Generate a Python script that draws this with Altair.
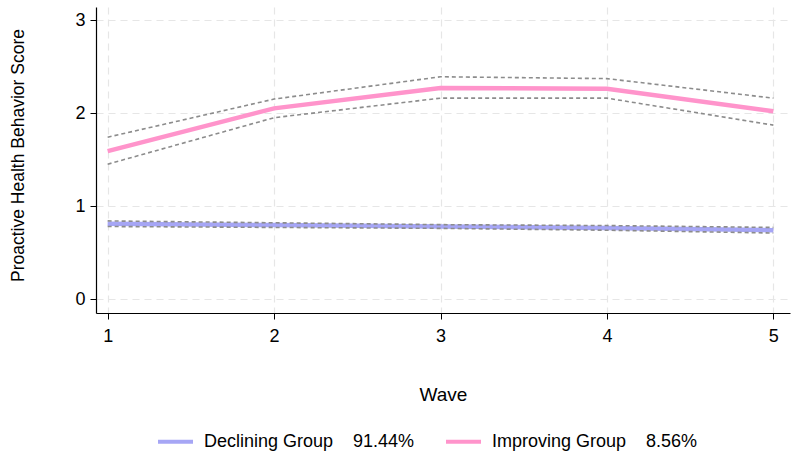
import altair as alt
import pandas as pd

# Trajectory groups: estimated mean scores with 95% confidence bounds per wave
waves = [1, 2, 3, 4, 5]
groups = ["Declining Group", "Improving Group"]
shares = ["91.44%", "8.56%"]
colors = ["#a6a6f5", "#ff94cb"]

declining_mean = [0.81, 0.795, 0.78, 0.765, 0.74]
declining_upper = [0.84, 0.82, 0.80, 0.79, 0.77]
declining_lower = [0.78, 0.77, 0.76, 0.74, 0.71]

improving_mean = [1.59, 2.05, 2.27, 2.26, 2.02]
improving_upper = [1.74, 2.15, 2.39, 2.37, 2.16]
improving_lower = [1.45, 1.95, 2.16, 2.16, 1.87]

NBSP = "\u00a0"
labels = [g + NBSP * 4 + s for g, s in zip(groups, shares)]

series = {
    labels[0]: (declining_mean, declining_upper, declining_lower),
    labels[1]: (improving_mean, improving_upper, improving_lower),
}

mean_rows, ci_rows = [], []
for label, (mean, upper, lower) in series.items():
    for w, m, u, lo in zip(waves, mean, upper, lower):
        mean_rows.append({"wave": w, "score": m, "group": label})
        ci_rows.append({"wave": w, "score": u, "group": label, "bound": "upper"})
        ci_rows.append({"wave": w, "score": lo, "group": label, "bound": "lower"})

mean_df = pd.DataFrame(mean_rows)
ci_df = pd.DataFrame(ci_rows)

x_enc = alt.X(
    "wave:Q",
    scale=alt.Scale(domain=[0.93, 5.1], nice=False, zero=False),
    axis=alt.Axis(values=waves, format="d", title="Wave", titlePadding=40),
)
y_enc = alt.Y(
    "score:Q",
    scale=alt.Scale(domain=[-0.15, 3.14], nice=False, zero=False),
    axis=alt.Axis(values=[0, 1, 2, 3], format="d", title="Proactive Health Behavior Score",
                  titlePadding=47, titleY=148),
)

means = alt.Chart(mean_df).mark_line(strokeWidth=4.5, strokeCap="butt").encode(
    x=x_enc,
    y=y_enc,
    color=alt.Color(
        "group:N",
        scale=alt.Scale(domain=labels, range=colors),
        legend=alt.Legend(
            title=None,
            orient="none",
            direction="horizontal",
            legendX=60,
            legendY=415,
            symbolType="stroke",
            symbolStrokeWidth=4,
            symbolSize=1225,
            labelFontSize=18,
            labelFont="Liberation Sans",
            labelColor="#000000",
            labelLimit=400,
            columnPadding=23,
            labelOffset=9,
        ),
    ),
)

bounds = alt.Chart(ci_df).mark_line(
    strokeWidth=1.6, strokeDash=[4, 3], color="#8c8c8c"
).encode(
    x="wave:Q",
    y="score:Q",
    detail=alt.Detail(["group:N", "bound:N"]),
)

chart = (
    alt.layer(means, bounds)
    .properties(
        width=694,
        height=306,
        padding={"left": 96, "top": 7, "right": 8, "bottom": 143},
        autosize=alt.AutoSizeParams(type="none"),
        background="white",
    )
    .configure_view(stroke=None)
    .configure_axis(
        labelFont="Liberation Sans",
        titleFont="Liberation Sans",
        labelFontSize=18,
        labelColor="#000000",
        titleColor="#000000",
        titleFontWeight="normal",
        domainColor="#000000",
        domainWidth=1.2,
        tickColor="#000000",
        tickSize=6,
        grid=True,
        gridColor="#e6e6e6",
        gridDash=[7, 5],
        gridWidth=1.2,
    )
    .configure_axisX(titleFontSize=19, labelPadding=8)
    .configure_axisY(titleFontSize=17.5, labelPadding=5)
)

chart.save("out.html", embed_options={"renderer": "svg", "actions": False})
